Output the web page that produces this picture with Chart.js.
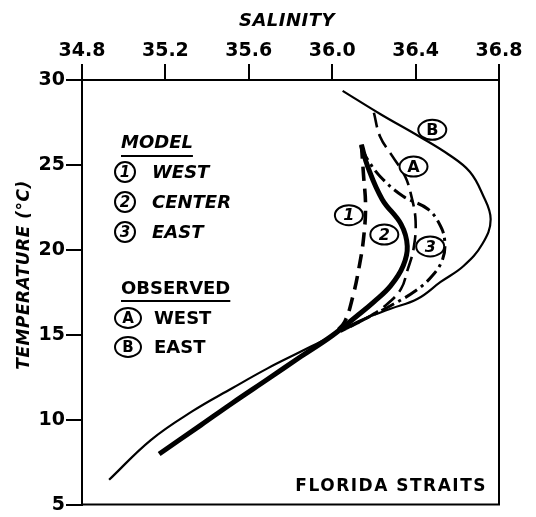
<!DOCTYPE html>
<html>
<head>
<meta charset="utf-8">
<script src="https://cdn.jsdelivr.net/npm/chart.js@4"></script>
<style>
  html, body { margin: 0; padding: 0; background: #fff; }
  #wrap { width: 536px; height: 517px; }
</style>
</head>
<body>
<div id="wrap"><canvas id="myChart" width="536" height="517"></canvas></div>
<script>
// --------------------
// Data (salinity, temperature)
// --------------------
const xTicks = [34.8, 35.2, 35.6, 36.0, 36.4, 36.8];
const yTicks = [5, 10, 15, 20, 25, 30];

// Observed east (B) - thin solid
const eastObsSal  = [36.05, 36.23, 36.42, 36.56, 36.66, 36.72, 36.76, 36.72, 36.63, 36.52, 36.41, 36.28, 36.12, 36.0, 35.85, 35.69, 35.52, 35.33, 35.13, 34.93];
const eastObsTemp = [29.36, 28.0, 26.66, 25.6, 24.6, 23.3, 21.8, 20.34, 19.05, 18.11, 17.12, 16.53, 15.77, 14.95, 14.01, 13.02, 11.85, 10.5, 8.8, 6.46];

// Observed west (A) - dashed
const westObsSal  = [36.2, 36.23, 36.29, 36.35, 36.38, 36.4, 36.39, 36.36, 36.33, 36.26, 36.16, 36.04];
const westObsTemp = [28.07, 26.66, 25.49, 24.32, 23.15, 21.69, 20.05, 18.76, 17.7, 16.77, 15.95, 15.19];

// Model west (1) - long dashes
const westModSal  = [36.14, 36.15, 36.16, 36.15, 36.13, 36.1, 36.06, 36.01];
const westModTemp = [26.19, 24.44, 22.56, 20.63, 19.05, 17.3, 15.77, 15.07];

// Model center (2) - thick solid
const centerModSal  = [36.14, 36.17, 36.24, 36.33, 36.36, 36.34, 36.28, 36.2, 36.12, 36.0, 35.85, 35.69, 35.52, 35.37, 35.17];
const centerModTemp = [26.19, 24.91, 22.97, 21.51, 20.22, 19.05, 17.88, 16.94, 16.12, 14.95, 13.72, 12.38, 10.97, 9.68, 7.98];

// Model east (3) - dash-dot
const eastModSal  = [36.14, 36.17, 36.23, 36.34, 36.46, 36.52, 36.54, 36.53, 36.48, 36.4, 36.28, 36.16, 36.04];
const eastModTemp = [26.02, 25.32, 24.32, 23.15, 22.39, 21.39, 20.46, 19.46, 18.47, 17.59, 16.71, 15.95, 15.19];

// Circled curve labels
const curveLabels = ["1", "2", "3", "A", "B"];
const curveLabelSal  = [36.08, 36.25, 36.47, 36.39, 36.48];
const curveLabelTemp = [22.04, 20.9, 20.2, 24.9, 27.07];

const zip = (xs, ys) => xs.map((x, i) => ({ x: x, y: ys[i] }));

const FONT = "'DejaVu Sans', sans-serif";

// --------------------
// Annotations: titles, legend text, circled labels, box
// --------------------
function circled(ctx, cx, cy, txt, rx, ry, italic, size) {
  ctx.save();
  ctx.beginPath();
  ctx.ellipse(cx, cy, rx, ry, 0, 0, Math.PI * 2);
  ctx.fillStyle = "#fff";
  ctx.fill();
  ctx.lineWidth = 2;
  ctx.strokeStyle = "#000";
  ctx.stroke();
  ctx.fillStyle = "#000";
  ctx.font = (italic ? "italic " : "") + "bold " + (size || 16) + "px " + FONT;
  ctx.textAlign = "center";
  ctx.textBaseline = "middle";
  ctx.fillText(txt, cx, cy + 1);
  ctx.restore();
}

const drawExtras = {
  id: "drawExtras",
  afterDatasetsDraw(chart) {
    const ctx = chart.ctx;
    const a = chart.chartArea;
    const sx = chart.scales.x, sy = chart.scales.y;

    // right and bottom frame
    ctx.save();
    ctx.strokeStyle = "#000";
    ctx.lineWidth = 2;
    ctx.beginPath();
    ctx.moveTo(a.right, a.top);
    ctx.lineTo(a.right, a.bottom);
    ctx.lineTo(a.left, a.bottom);
    ctx.stroke();

    // axis titles
    ctx.fillStyle = "#000";
    ctx.textAlign = "center";
    ctx.textBaseline = "middle";
    ctx.font = "italic bold 18px " + FONT;
    ctx.letterSpacing = "0.5px";
    ctx.fillText("SALINITY", 287, 21);
    ctx.font = "italic bold 17px " + FONT;
    ctx.save();
    ctx.translate(25, 275);
    ctx.rotate(-Math.PI / 2);
    ctx.fillText("TEMPERATURE (°C)", 0, 0);
    ctx.restore();
    ctx.letterSpacing = "0px";

    // legend block
    ctx.textAlign = "left";
    const lx = 121;
    ctx.font = "italic bold 18px " + FONT;
    ctx.fillText("MODEL", lx, 143);
    ctx.fillRect(lx, 155, ctx.measureText("MODEL").width, 2);
    const modelRows = [["1", "WEST"], ["2", "CENTER"], ["3", "EAST"]];
    modelRows.forEach((r, i) => {
      const y = 172 + i * 30;
      circled(ctx, lx + 4, y, r[0], 10, 10, true, 15);
      ctx.font = "italic bold 18px " + FONT;
      ctx.textAlign = "left";
      ctx.fillText(r[1], lx + 31, y + 1);
    });
    ctx.font = "bold 18px " + FONT;
    ctx.fillText("OBSERVED", lx, 289);
    ctx.fillRect(lx, 300, ctx.measureText("OBSERVED").width, 2);
    const obsRows = [["A", "WEST"], ["B", "EAST"]];
    obsRows.forEach((r, i) => {
      const y = 318 + i * 29;
      circled(ctx, lx + 7, y, r[0], 13, 10, false, 15);
      ctx.font = "bold 18px " + FONT;
      ctx.textAlign = "left";
      ctx.fillText(r[1], lx + 33, y + 1);
    });

    // region label
    ctx.font = "bold 17px " + FONT;
    ctx.letterSpacing = "1.5px";
    ctx.textAlign = "right";
    ctx.fillText("FLORIDA STRAITS", a.right - 12, 487);
    ctx.letterSpacing = "0px";

    // circled curve labels
    curveLabels.forEach((t, i) => {
      const px = sx.getPixelForValue(curveLabelSal[i]);
      const py = sy.getPixelForValue(curveLabelTemp[i]);
      const italic = /[0-9]/.test(t);
      circled(ctx, px, py, t, 14, 10, italic, 16);
    });
    ctx.restore();
  }
};

// --------------------
// Build chart
// --------------------
const ctx = document.getElementById("myChart").getContext("2d");

const chart = new Chart(ctx, {
  type: "scatter",
  data: {
    datasets: [
      {
        label: "B East (observed)",
        data: zip(eastObsSal, eastObsTemp),
        borderWidth: 2.2,
        borderDash: []
      },
      {
        label: "A West (observed)",
        data: zip(westObsSal, westObsTemp),
        borderWidth: 2.6,
        borderDash: [15, 7]
      },
      {
        label: "1 West (model)",
        data: zip(westModSal, westModTemp),
        borderWidth: 3.6,
        borderDash: [14, 8]
      },
      {
        label: "3 East (model)",
        data: zip(eastModSal, eastModTemp),
        borderWidth: 3,
        borderDash: [14, 5, 3, 5]
      },
      {
        label: "2 Center (model)",
        data: zip(centerModSal, centerModTemp),
        borderWidth: 5,
        borderDash: []
      }
    ].map(d => Object.assign(d, {
      showLine: true,
      tension: 0.4,
      borderColor: "#000",
      backgroundColor: "#000",
      pointRadius: 0,
      borderCapStyle: "butt"
    }))
  },
  options: {
    responsive: false,
    animation: false,
    layout: { padding: { left: 0, top: 0, right: 37, bottom: 10 } },
    scales: {
      x: {
        type: "linear",
        position: "top",
        min: 34.8,
        max: 36.8,
        afterBuildTicks: s => { s.ticks = xTicks.map(v => ({ value: v })); },
        afterFit: s => { s.height = 80; },
        ticks: {
          color: "#000",
          font: { family: FONT, size: 19, weight: "bold" },
          padding: 2,
          maxRotation: 0,
          callback: v => Number(v).toFixed(1)
        },
        grid: { drawOnChartArea: false, drawTicks: true, tickLength: 16, color: "#000", lineWidth: 2 },
        border: { display: true, color: "#000", width: 2 }
      },
      y: {
        type: "linear",
        min: 5,
        max: 30,
        afterBuildTicks: s => { s.ticks = yTicks.map(v => ({ value: v })); },
        afterFit: s => { s.width = 82; },
        ticks: {
          color: "#000",
          font: { family: FONT, size: 19, weight: "bold" },
          padding: 1
        },
        grid: { drawOnChartArea: false, drawTicks: true, tickLength: 16, color: "#000", lineWidth: 2 },
        border: { display: true, color: "#000", width: 2 }
      }
    },
    plugins: {
      legend: { display: false },
      tooltip: { enabled: false }
    }
  },
  plugins: [drawExtras]
});
</script>
</body>
</html>
